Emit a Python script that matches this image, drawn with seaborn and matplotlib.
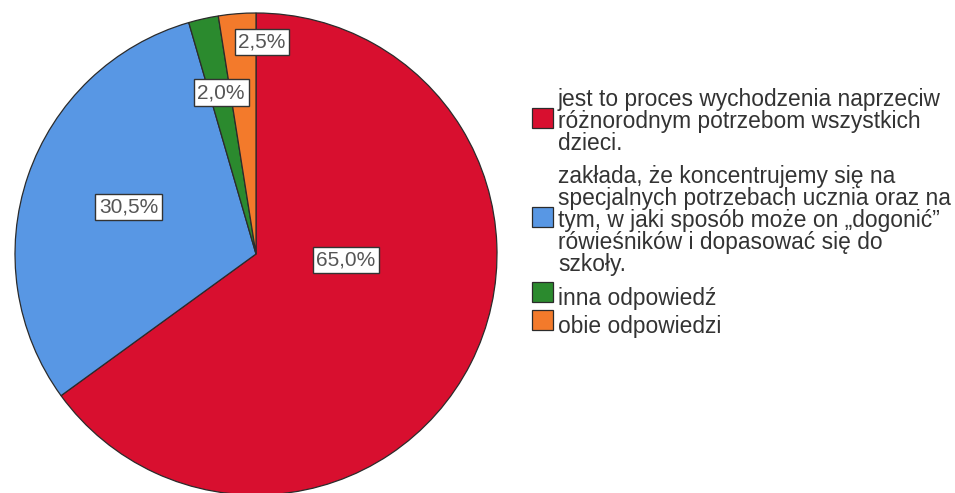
import matplotlib
matplotlib.use("Agg")
import matplotlib.pyplot as plt
import matplotlib.patches as mpatches
from matplotlib.legend_handler import HandlerPatch
import seaborn as sns

# Answer categories (legend text, wrapped as in the printed legend)
categories = [
    "jest to proces wychodzenia naprzeciw\nróżnorodnym potrzebom wszystkich\ndzieci.",
    "zakłada, że koncentrujemy się na\nspecjalnych potrzebach ucznia oraz na\n"
    "tym, w jaki sposób może on „dogonić”\nrówieśników i dopasować się do\nszkoły.",
    "inna odpowiedź",
    "obie odpowiedzi",
]
percents = [65.0, 30.5, 2.0, 2.5]
colors = ["#D80F2F", "#5897E4", "#2B8A2E", "#F37A2B"]

# Where each percentage box sits inside the pie (data units, radius = 1)
label_xy = [(0.373, -0.025), (-0.528, 0.195), (-0.145, 0.670), (0.025, 0.880)]

sns.set_theme(style="white")
plt.rcParams["font.family"] = ["Liberation Sans", "DejaVu Sans"]

fig = plt.figure(figsize=(9.55, 4.93), dpi=100)
ax = fig.add_axes([15 / 955, -2 / 493, 482 / 955, 482 / 493])

wedges, _ = ax.pie(
    percents,
    colors=colors,
    startangle=90,
    counterclock=False,
    radius=1,
    wedgeprops=dict(edgecolor="#2b2b2b", linewidth=0.9),
)
for w in wedges:
    w.set_clip_on(False)
ax.set_xlim(-1, 1)
ax.set_ylim(-1, 1)

for v, (x, y) in zip(percents, label_xy):
    ax.text(
        x, y, f"{v:.1f}%".replace(".", ","),
        ha="center", va="center", fontsize=15, color="#555555",
        bbox=dict(boxstyle="square,pad=0.18", facecolor="white",
                  edgecolor="#333333", linewidth=1.0),
    )


def raised_square(legend, orig_handle, xdescent, ydescent, width, height, fontsize):
    # colour swatch lifted slightly above the text's vertical centre
    return mpatches.Rectangle((-xdescent, -ydescent + 3.6), width, height)


legend_style = dict(
    loc="upper left",
    bbox_transform=fig.transFigure,
    frameon=False,
    fontsize=16.4,
    handlelength=0.92,
    handleheight=0.95,
    handletextpad=0.22,
    borderpad=0,
    borderaxespad=0,
    handler_map={mpatches.Wedge: HandlerPatch(patch_func=raised_square)},
)

# Long, wrapped answers
leg_top = ax.legend(wedges[:2], categories[:2],
                    bbox_to_anchor=(532 / 955, 1 - 88 / 493),
                    labelspacing=0.44, **legend_style)
ax.add_artist(leg_top)
# Short answers
leg_bottom = ax.legend(wedges[2:], categories[2:],
                       bbox_to_anchor=(532 / 955, 1 - 287 / 493),
                       labelspacing=0.21, **legend_style)

for leg in (leg_top, leg_bottom):
    for t in leg.get_texts():
        t.set_linespacing(0.945)
        t.set_color("#333333")

fig.savefig("out.png", dpi=100)
